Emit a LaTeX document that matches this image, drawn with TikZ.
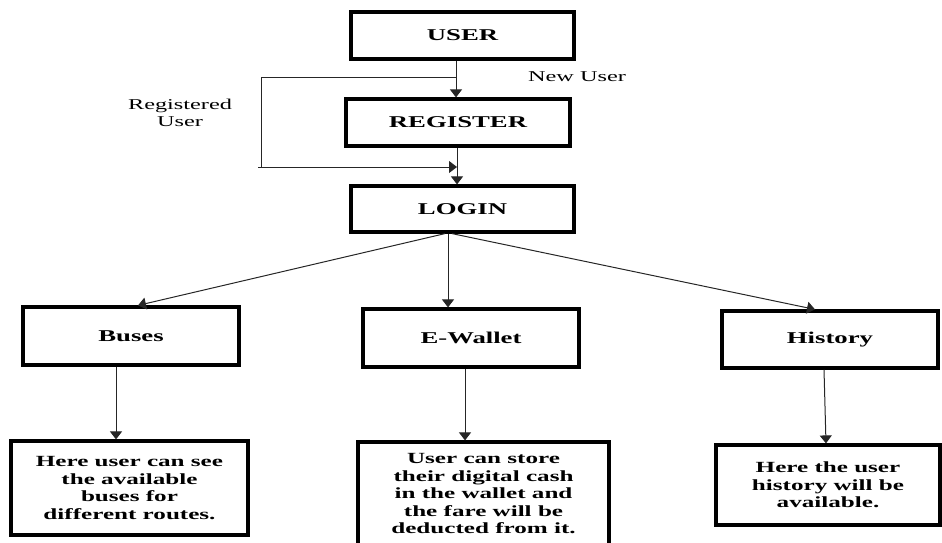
\documentclass[tikz,border=0pt]{standalone}
\usepackage{fontspec}
\setmainfont{Liberation Serif}[FakeStretch=1.62]
\usetikzlibrary{arrows.meta}
\tikzset{
  box/.style={draw=black, line width=3.2pt, rectangle, inner sep=2pt, align=center,
              font=\fontsize{16.5}{18}\selectfont\bfseries},
  notebox/.style={box, font=\fontsize{15.5}{17.5}\selectfont\bfseries},
  lbl/.style={align=center, font=\fontsize{15}{17}\selectfont},
  con/.style={draw=black!85, line width=1pt},
  arr/.style={con, -{Triangle[length=8pt,width=12pt]}}
}
\begin{document}
\begin{tikzpicture}[x=1pt,y=-1pt]
\useasboundingbox (0,0) rectangle (942,542);
% top column
\node[box, minimum width=223pt, minimum height=47pt] (user) at (462.5,35.5) {USER};
\node[box, minimum width=224pt, minimum height=47pt] (register) at (458,122.5) {REGISTER};
\node[box, minimum width=223pt, minimum height=46pt] (login) at (462.5,209) {LOGIN};
% second row
\node[box, minimum width=216pt, minimum height=58pt] (buses) at (131,336) {Buses};
\node[box, minimum width=216pt, minimum height=58pt] (ewallet) at (471,338) {E-Wallet};
\node[box, minimum width=216pt, minimum height=57pt] (history) at (830,339.5) {History};
% third row
\node[notebox, minimum width=237pt, minimum height=94pt] (r1) at (129.5,488)
  {Here user can see\\the available\\buses for\\different routes.};
\node[notebox, minimum width=251pt, minimum height=104pt] (r2) at (483.5,494)
  {User can store\\their digital cash\\in the wallet and\\the fare will be\\deducted from it.};
\node[notebox, minimum width=224pt, minimum height=80pt] (r3) at (828,485)
  {Here the user\\history will be\\available.};
% labels
\node[lbl] (newuser) at (577,77) {New User};
\node[lbl] (reguser) at (180,113) {Registered\\User};
% branch for registered users
\coordinate (b0) at (456,77);
\coordinate (b1) at (261,77);
\coordinate (b2) at (261,167);
\coordinate (b3) at (457,167);
\draw[con] (b0) -- (b1) -- (b2);
\draw[arr] ([xshift=-3pt]b2) -- (b3);
% connectors
\draw[arr] ([xshift=-6.5pt]user.south) -- ([xshift=-2pt]register.north);
\draw[arr] ([xshift=-1pt]register.south) -- ([xshift=-5.5pt]login.north);
\draw[arr] ([xshift=-17.5pt]login.south) -- ([xshift=7pt]buses.north);
\draw[arr] ([xshift=-14.5pt]login.south) -- ([xshift=-23pt]ewallet.north);
\draw[arr] ([xshift=-10.5pt]login.south) -- ([xshift=-15pt]history.north);
\draw[arr] ([xshift=-15pt]buses.south) -- ([xshift=-13.5pt]r1.north);
\draw[arr] ([xshift=-6pt]ewallet.south) -- ([xshift=-18.5pt]r2.north);
\draw[arr] ([xshift=-6pt]history.south) -- ([xshift=-2pt]r3.north);
\end{tikzpicture}
\end{document}
